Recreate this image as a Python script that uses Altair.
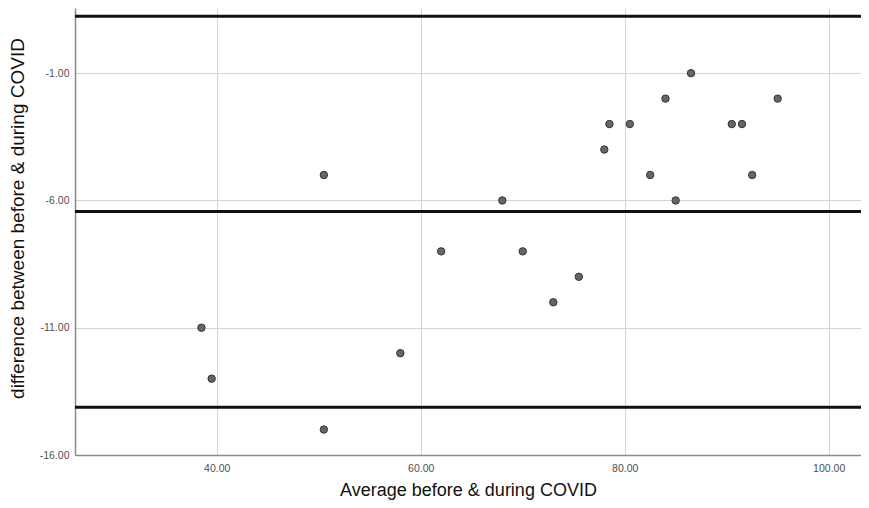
import altair as alt
import pandas as pd

# Data
avg = [38.5, 39.5, 50.5, 50.5, 58.0, 62.0, 68.0, 70.0, 73.0, 75.5, 78.0,
       78.5, 80.5, 82.5, 84.0, 85.0, 86.5, 90.5, 91.5, 92.5, 95.0]
diff = [-11, -13, -5, -15, -12, -8, -6, -8, -10, -9, -4,
        -3, -3, -5, -2, -6, -1, -3, -3, -5, -2]
ref_lines = [1.24, -6.43, -14.12]   # upper limit, mean, lower limit
x_ticks = [40, 60, 80, 100]
y_ticks = [-1, -6, -11, -16]

pts = pd.DataFrame({"avg": avg, "diff": diff})
refs = pd.DataFrame({"y": ref_lines})

FONT = "Liberation Sans"
HYPHEN = "replace(datum.label, '\u2212', '-')"

xscale = alt.Scale(domain=[26.1, 103.17], nice=False, zero=False)
yscale = alt.Scale(domain=[-16, 1.56], nice=False, zero=False)

points = alt.Chart(pts).mark_point(
    filled=True, size=55, color="#666666", stroke="#333333", strokeWidth=1, opacity=1
).encode(
    x=alt.X("avg:Q", scale=xscale,
            axis=alt.Axis(values=x_ticks, format=".2f", labelExpr=HYPHEN,
                          title="Average before & during COVID",
                          titleY=35, titleBaseline="middle", titleFontSize=18)),
    y=alt.Y("diff:Q", scale=yscale,
            axis=alt.Axis(values=y_ticks, format=".2f", labelExpr=HYPHEN,
                          title="difference between before & during COVID",
                          titleX=-58, titleY=210, titleAngle=-90, titleAlign="center",
                          titleBaseline="middle", titleFontSize=19)),
)

rules = alt.Chart(refs).mark_rule(color="#111111", strokeWidth=3).encode(
    y=alt.Y("y:Q", scale=yscale)
)

chart = alt.layer(rules, points).properties(
    width=786, height=447,
    padding={"left": 67, "top": 0, "right": 0, "bottom": 45},
    autosize=alt.AutoSizeParams(type="none"),
).configure_view(stroke=None).configure_axis(
    grid=True, gridColor="#d4d4d4", gridWidth=1,
    domainColor="#8a8a8a", domainWidth=1.5,
    ticks=False, labelFont=FONT, labelFontSize=10.5, labelColor="#505050",
    labelPadding=6, titleFont=FONT, titleFontWeight="normal",
    titleColor="#111111",
).configure_axisX(labelPadding=8)

chart.save("out.html", embed_options={"renderer": "svg", "actions": False})
